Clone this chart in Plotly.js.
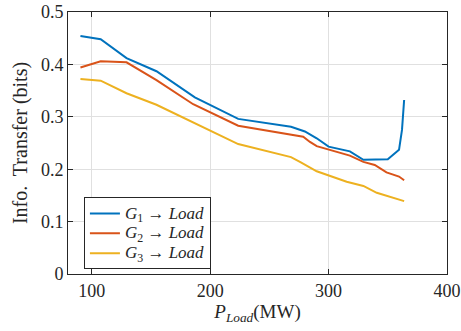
<!DOCTYPE html>
<html><head><meta charset="utf-8">
<script src="https://cdn.plot.ly/plotly-3.0.1.min.js"></script>
<style>body{margin:0;background:#fff}#c{width:461px;height:331px}</style>
</head><body><div id="c"></div>
<script>
const x1 = [90.5, 107.6, 129.4, 154.7, 187.1, 223.7, 268.3, 280, 290, 300, 318, 329.4, 350, 359.5, 362, 363.8];
const g1 = [0.454, 0.448, 0.412, 0.387, 0.337, 0.296, 0.281, 0.272, 0.259, 0.243, 0.234, 0.218, 0.219, 0.237, 0.275, 0.332];
const x2 = [90.5, 107.6, 129.4, 154.7, 185.7, 223.7, 278.6, 284.3, 290, 299.8, 318, 329.4, 339, 348.9, 359.5, 363.8];
const g2 = [0.394, 0.406, 0.404, 0.370, 0.324, 0.283, 0.262, 0.252, 0.244, 0.238, 0.226, 0.214, 0.208, 0.194, 0.186, 0.179];
const x3 = [90.5, 107.6, 129.4, 154.7, 223.7, 268.3, 276.6, 290, 315.3, 329.4, 340.7, 359.5, 363.8];
const g3 = [0.372, 0.369, 0.345, 0.323, 0.248, 0.223, 0.213, 0.196, 0.176, 0.168, 0.155, 0.143, 0.139];
const names = ['<i>G</i><sub>1</sub> → <i>Load</i>', '<i>G</i><sub>2</sub> → <i>Load</i>', '<i>G</i><sub>3</sub> → <i>Load</i>'];
const colors = ['#0072BD', '#D95319', '#EDB120'];
const xTicks = [100, 200, 300, 400];
const yTicks = [0, 0.1, 0.2, 0.3, 0.4, 0.5];
const yTickText = ['0', '0.1', '0.2', '0.3', '0.4', '0.5'];

const xs = [x1, x2, x3], ys = [g1, g2, g3];
const data = xs.map((x, i) => ({
  x: x, y: ys[i], type: 'scatter', mode: 'lines',
  name: '<span style="font-size:17px">' + names[i] + '</span>',
  line: {color: colors[i], width: 2}
}));
const FAM = '"Liberation Serif"';
const mk = (s) => ({family: FAM, size: s, color: '#262626'});
const axisCommon = {
  showline: true, linecolor: '#262626', linewidth: 1, mirror: 'ticks',
  ticks: 'inside', ticklen: 5, tickcolor: '#262626',
  showgrid: true, gridcolor: '#e0e0e0', gridwidth: 1, zeroline: false
};
const layout = {
  width: 461, height: 331,
  margin: {l: 68, r: 14, t: 12, b: 57},
  paper_bgcolor: '#fff', plot_bgcolor: '#fff',
  font: mk(18),
  showlegend: true,
  xaxis: Object.assign({}, axisCommon, {
    range: [80, 400], tickvals: xTicks, ticktext: xTicks.map(String), tickfont: mk(18),
    title: {text: '<i>P</i><sub><i>Load</i></sub>(MW)', font: mk(19), standoff: 4}
  }),
  yaxis: Object.assign({}, axisCommon, {
    range: [0, 0.5], tickvals: yTicks, ticktext: yTickText, tickfont: mk(18),
    title: {text: 'Info.  Transfer (bits)', font: mk(20), standoff: 7}
  }),
  legend: {
    x: 0.042, y: 0.292, xanchor: 'left', yanchor: 'top',
    bgcolor: '#fff', bordercolor: '#262626', borderwidth: 1,
    font: mk(13), tracegroupgap: 0
  }
};
Plotly.newPlot('c', data, layout, {staticPlot: true, displayModeBar: false});
</script></body></html>
